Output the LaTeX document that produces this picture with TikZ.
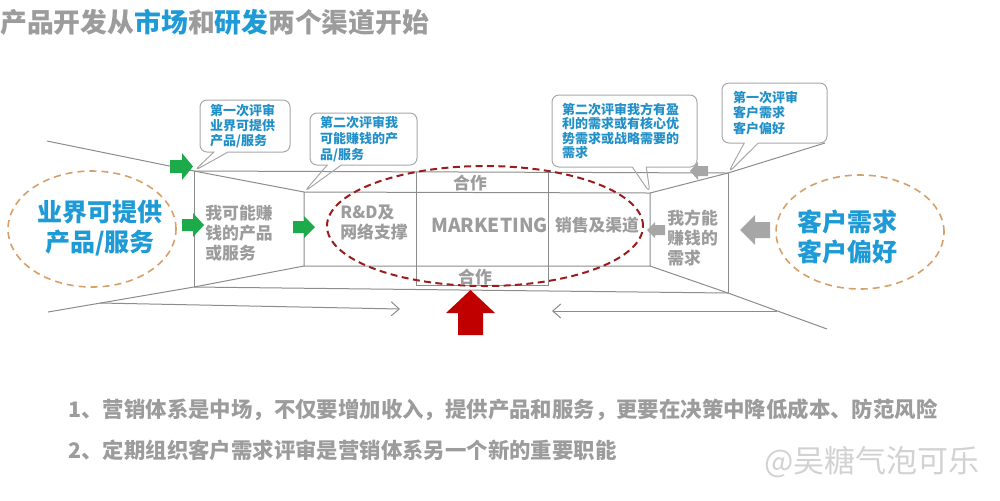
\documentclass[tikz,border=0pt]{standalone}
\usepackage{fontspec}
\setmainfont{Noto Sans CJK SC}
\usetikzlibrary{shapes.callouts,arrows.meta}
\definecolor{tblue}{HTML}{1E9AD6}
\definecolor{cblue}{HTML}{2290C8}
\definecolor{tgray}{HTML}{9C9C9C}
\definecolor{lgray}{HTML}{8C8C8C}
\definecolor{bgray}{HTML}{A8A8A8}
\definecolor{ggreen}{HTML}{1DAA4A}
\definecolor{agray}{HTML}{A6A6A6}
\definecolor{darkred}{HTML}{C00000}
\definecolor{ered}{HTML}{9B1C1C}
\definecolor{eorange}{HTML}{D6A068}
\begin{document}
\begin{tikzpicture}[x=0.5pt,y=-0.5pt,
  pline/.style={draw=lgray,line width=0.5pt},
  bubble/.style={rectangle callout,draw=bgray,line width=0.5pt,rounded corners=3.5pt,
    callout pointer width=7pt,inner xsep=5pt,inner ysep=0pt,align=left,
    text=cblue,font=\bfseries\fontsize{6.5pt}{7.6pt}\selectfont},
  paneltxt/.style={text=tgray,font=\bfseries\fontsize{8.4pt}{10pt}\selectfont,align=left,inner sep=0pt},
  bigtxt/.style={text=tblue,font=\bfseries\fontsize{12.5pt}{15pt}\selectfont,align=center,inner sep=0pt},
  bottxt/.style={text=tgray,font=\bfseries\fontsize{10.7pt}{12pt}\selectfont,inner sep=0pt,anchor=west},
  oell/.style={draw=eorange,line width=0.8pt,dash pattern=on 3.5pt off 2.5pt},
  rell/.style={draw=ered,line width=1pt,dash pattern=on 3.5pt off 2.2pt},
  larrow/.style={draw=lgray,line width=0.5pt,-{Straight Barb[length=4pt,width=7pt]}}
]
\useasboundingbox (0,0) rectangle (1000,500);

% title
\node[anchor=west,inner sep=0pt,text=tgray,font=\bfseries\fontsize{13.4pt}{15pt}\selectfont] (title) at (0,22)
  {产品开发从\textcolor{tblue}{市场}和\textcolor{tblue}{研发}两个渠道开始};

% perspective corners
\coordinate (OTL) at (194,171); \coordinate (OTR) at (728,173);
\coordinate (OBL) at (194,287); \coordinate (OBR) at (728,293);
\coordinate (ITL) at (304,192); \coordinate (ITR) at (650,193);
\coordinate (IBL) at (304,266); \coordinate (IBR) at (650,266);
\coordinate (FTL) at (47,141);  \coordinate (FBL) at (48,312);
\coordinate (FTR) at (825,143); \coordinate (FBR) at (827,329);
\coordinate (MTL) at (416,172); \coordinate (MTR) at (548,172);
\coordinate (MBL) at (416,285); \coordinate (MBR) at (548,285);
\coordinate (AL1) at (100,303); \coordinate (AL2) at (400,309);
\coordinate (AR1) at (777,311); \coordinate (AR2) at (552,311);

\draw[pline] (FTL) -- (OTL) -- (ITL);
\draw[pline] (FBL) -- (OBL) -- (IBL);
\draw[pline] (FTR) -- (OTR) -- (ITR);
\draw[pline] (FBR) -- (OBR) -- (IBR);
\draw[pline] (OTL) -- (OTR);
\draw[pline] (OBL) -- (OBR);
\draw[pline] (OTL) -- (OBL);
\draw[pline] (OTR) -- (OBR);
\draw[pline] (ITL) -- (ITR) -- (IBR) -- (IBL) -- cycle;
\draw[pline] (MTL) -- (MBL) -- (MBR) -- (MTR);
\draw[larrow] (AL1) -- (AL2);
\draw[larrow] (AR1) -- (AR2);

% callouts
\node[bubble,callout absolute pointer={(OTL)},text width=35pt,minimum width=45pt,minimum height=26pt] (c1) at (245,126)
  {第一次评审\\业界可提供\\产品/服务};
\node[bubble,callout absolute pointer={(ITL)},text width=43.5pt,minimum width=53.5pt,minimum height=26pt,
  font=\bfseries\fontsize{6.5pt}{8.2pt}\selectfont] (c2) at (363.5,139)
  {第二次评审我\\可能赚钱的产\\品/服务};
\node[bubble,callout absolute pointer={(ITR)},text width=62.5pt,minimum width=72.5pt,minimum height=36pt,
  font=\bfseries\fontsize{6.5pt}{7.1pt}\selectfont] (c3) at (624.5,131)
  {第二次评审我方有盈\\利的需求或有核心优\\势需求或战略需要的\\需求};
\node[bubble,callout absolute pointer={(OTR)},text width=41.5pt,minimum width=52.5pt,minimum height=30pt] (c4) at (774.5,113)
  {第一次评审\\客户需求\\客户偏好};

% block arrows
\fill[ggreen] (170,160) -- (182,160) -- (182,153) -- (193,166.5) -- (182,180) -- (182,173) -- (170,173) -- cycle;
\fill[ggreen] (182,219) -- (193,219) -- (193,213) -- (204,225) -- (193,237) -- (193,231) -- (182,231) -- cycle;
\fill[ggreen] (293,221) -- (304,221) -- (304,216) -- (315,227) -- (304,238) -- (304,233) -- (293,233) -- cycle;
\fill[agray] (708,166) -- (698,166) -- (698,162) -- (690,171) -- (698,180) -- (698,176) -- (708,176) -- cycle;
\fill[agray] (665,225) -- (655,225) -- (655,222) -- (647,230) -- (655,238) -- (655,235) -- (665,235) -- cycle;
\fill[agray] (770,222) -- (755,222) -- (755,215) -- (740,230) -- (755,245) -- (755,238) -- (770,238) -- cycle;
\fill[darkred] (458,335) -- (458,313) -- (446,313) -- (470.5,290) -- (495,313) -- (483,313) -- (483,335) -- cycle;

% ellipses
\draw[oell] (92,229) ellipse [x radius=42pt,y radius=29pt];
\draw[oell] (860,232) ellipse [x radius=42pt,y radius=28.5pt];
\draw[rell] (485,226) ellipse [x radius=79pt,y radius=30pt];

% texts
\node[bigtxt] (lefttxt) at (100,228.5) {业界可提供\\产品/服务};
\node[bigtxt] (righttxt) at (847,237) {客户需求\\客户偏好};
\node[paneltxt,anchor=west] (p1) at (205,233) {我可能赚\\钱的产品\\或服务};
\node[paneltxt,anchor=west] (p2) at (340,223) {R\&D及\\网络支撑};
\node[paneltxt,font=\bfseries\fontsize{9.6pt}{10pt}\selectfont] (mk) at (489.5,225) {MARKETING};
\node[paneltxt] (p3) at (597,225) {销售及渠道};
\node[paneltxt] (hz1) at (470,183) {合作};
\node[paneltxt] (hz2) at (475,277) {合作};
\node[paneltxt,anchor=west] (p4) at (667,237.5) {我方能\\赚钱的\\需求};

% bottom notes
\node[bottxt] (n1) at (68,410) {1、营销体系是中场，不仅要增加收入，提供产品和服务，更要在决策中降低成本、防范风险};
\node[bottxt] (n2) at (68,450) {2、定期组织客户需求评审是营销体系另一个新的重要职能};
\node[anchor=west,inner sep=0pt,text=gray!35,font=\fontsize{15.5pt}{17pt}\selectfont] (wm) at (764,462) {@吴糖气泡可乐};
\end{tikzpicture}
\end{document}
